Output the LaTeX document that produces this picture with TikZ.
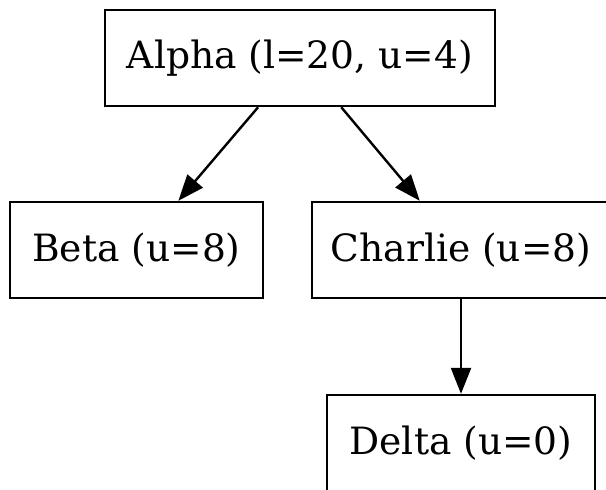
\documentclass[tikz,border=0pt]{standalone}
\usepackage{fontspec}
\setmainfont{DejaVu Serif}
\usetikzlibrary{arrows.meta}

\tikzset{
    box/.style={draw, line width=1.2pt, rectangle, inner sep=0pt,
        minimum height=48pt, font=\fontsize{18.8}{22}\selectfont},
    edge/.style={line width=1.2pt, -{Triangle[length=13pt,width=10pt]}}
}

\begin{document}
\begin{tikzpicture}[x=0.5pt, y=-0.5pt]
        % Fix the page to the size of the picture
        \useasboundingbox (0,0) rectangle (606,490);
        \clip (0,0) rectangle (606,490);

        % Draw the boxes
        \node[box, minimum width=195pt] (alpha) at (300,58) {Alpha (l=20, u=4)};
        \node[box, minimum width=126.5pt] (beta) at (136.5,250) {Beta (u=8)};
        \node[box, minimum width=149pt] (charlie) at (461,250) {Charlie (u=8)};
        \node[box, minimum width=134pt] (delta) at (461,443) {Delta (u=0)};

        % Draw directed edges
        \draw[edge] (alpha) -- (beta);
        \draw[edge] (alpha) -- (charlie);
        \draw[edge] (charlie) -- (delta);
    \end{tikzpicture}
\end{document}
